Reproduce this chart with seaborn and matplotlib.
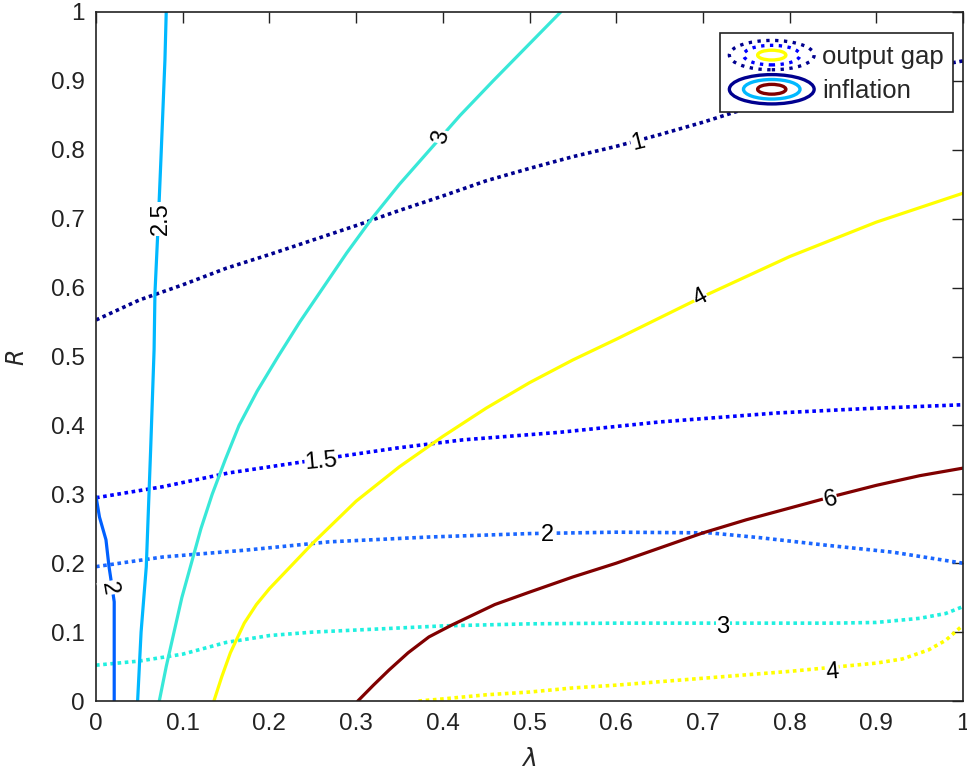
import numpy as np
import pandas as pd
import matplotlib
matplotlib.use("Agg")
import matplotlib.pyplot as plt
import seaborn as sns
from matplotlib.legend_handler import HandlerBase
from matplotlib.patches import Ellipse
from matplotlib.lines import Line2D

# ---------------- data ----------------
# inflation contours (solid)
infl_2_x = [0.021, 0.021, 0.018, 0.015, 0.0115, 0.004, 0.0]
infl_2_y = [0.0, 0.144, 0.170, 0.195, 0.234, 0.267, 0.297]
infl_25_x = [0.048, 0.052, 0.058, 0.063, 0.067, 0.068, 0.072, 0.075, 0.0795, 0.081]
infl_25_y = [0.0, 0.10, 0.195, 0.364, 0.51, 0.592, 0.70, 0.79, 0.93, 1.0]
infl_3_x = [0.073, 0.081, 0.090, 0.099, 0.110, 0.121, 0.134, 0.149, 0.165, 0.186, 0.210,
            0.235, 0.262, 0.289, 0.318, 0.350, 0.385, 0.420, 0.458, 0.497, 0.536]
infl_3_y = [0.0, 0.05, 0.10, 0.15, 0.20, 0.25, 0.30, 0.35, 0.40, 0.45, 0.50,
            0.55, 0.60, 0.65, 0.70, 0.75, 0.80, 0.85, 0.90, 0.95, 1.0]
infl_4_x = [0.136, 0.145, 0.155, 0.171, 0.185, 0.200, 0.250, 0.300, 0.350, 0.400, 0.450,
            0.500, 0.550, 0.600, 0.700, 0.800, 0.900, 1.0]
infl_4_y = [0.0, 0.035, 0.070, 0.113, 0.140, 0.163, 0.229, 0.290, 0.340, 0.384, 0.425,
            0.462, 0.495, 0.525, 0.587, 0.645, 0.695, 0.737]
infl_6_x = [0.302, 0.320, 0.338, 0.360, 0.384, 0.410, 0.430, 0.460, 0.500, 0.550, 0.600,
            0.650, 0.700, 0.750, 0.800, 0.850, 0.900, 0.950, 1.0]
infl_6_y = [0.0, 0.023, 0.045, 0.070, 0.093, 0.110, 0.122, 0.140, 0.158, 0.180, 0.200,
            0.222, 0.244, 0.263, 0.280, 0.297, 0.313, 0.327, 0.338]

# output gap contours (dotted)
og_1_x = [0.0, 0.05, 0.10, 0.15, 0.20, 0.25, 0.30, 0.35, 0.40, 0.45, 0.50,
          0.55, 0.60, 0.65, 0.70, 0.75, 0.80, 0.85, 0.90, 0.95, 1.0]
og_1_y = [0.553, 0.582, 0.604, 0.628, 0.648, 0.669, 0.690, 0.712, 0.733, 0.755, 0.773,
          0.790, 0.805, 0.822, 0.840, 0.860, 0.876, 0.892, 0.905, 0.918, 0.929]
og_15_x = [0.0, 0.077, 0.153, 0.238, 0.346, 0.423, 0.535, 0.650, 0.785, 0.881, 1.0]
og_15_y = [0.295, 0.311, 0.331, 0.347, 0.367, 0.379, 0.390, 0.405, 0.418, 0.424, 0.430]
og_2_x = [0.0, 0.077, 0.173, 0.269, 0.384, 0.500, 0.600, 0.708, 0.766, 0.843, 0.919, 1.0]
og_2_y = [0.195, 0.209, 0.219, 0.231, 0.238, 0.243, 0.245, 0.244, 0.237, 0.226, 0.216, 0.200]
og_3_x = [0.0, 0.05, 0.10, 0.15, 0.20, 0.25, 0.30, 0.40, 0.50, 0.60, 0.70, 0.80, 0.85,
          0.90, 0.95, 0.98, 1.0]
og_3_y = [0.052, 0.058, 0.068, 0.085, 0.095, 0.100, 0.103, 0.109, 0.112, 0.113, 0.113,
          0.113, 0.113, 0.114, 0.120, 0.127, 0.137]
og_4_x = [0.372, 0.40, 0.45, 0.50, 0.55, 0.60, 0.65, 0.70, 0.75, 0.80, 0.85, 0.90, 0.93,
          0.96, 0.98, 1.0]
og_4_y = [0.0, 0.003, 0.009, 0.013, 0.019, 0.023, 0.028, 0.033, 0.038, 0.043, 0.049,
          0.055, 0.061, 0.074, 0.088, 0.110]

# contour label texts and positions
label_texts = ["2", "2.5", "3", "4", "6", "1", "1.5", "2", "3", "4"]
label_x = [0.015, 0.075, 0.398, 0.697, 0.847, 0.625, 0.260, 0.521, 0.723, 0.849]
label_y = [0.164, 0.700, 0.819, 0.586, 0.292, 0.810, 0.347, 0.241, 0.107, 0.042]

x_ticks = [0, 0.1, 0.2, 0.3, 0.4, 0.5, 0.6, 0.7, 0.8, 0.9, 1]
y_ticks = [0, 0.1, 0.2, 0.3, 0.4, 0.5, 0.6, 0.7, 0.8, 0.9, 1]
tick_labels = ["0", "0.1", "0.2", "0.3", "0.4", "0.5", "0.6", "0.7", "0.8", "0.9", "1"]
legend_labels = ["output gap", "inflation"]

# ---------------- styling ----------------
sns.set_style("white")
plt.rcParams['font.family'] = ['Liberation Sans', 'DejaVu Sans']

C_NAVY = "#00008f"
C_BLUE = "#0000ff"
C_MID = "#0060ff"
C_SKY = "#00b8ff"
C_TURQ = "#38e8d8"
C_YEL = "#ffff00"
C_RED = "#800000"
C_OG2 = "#1a66ff"
C_OG3 = "#20f0e0"

solid = [(infl_2_x, infl_2_y, C_MID), (infl_25_x, infl_25_y, C_SKY),
         (infl_3_x, infl_3_y, C_TURQ), (infl_4_x, infl_4_y, C_YEL),
         (infl_6_x, infl_6_y, C_RED)]
dotted = [(og_1_x, og_1_y, C_NAVY), (og_15_x, og_15_y, C_BLUE),
          (og_2_x, og_2_y, C_OG2), (og_3_x, og_3_y, C_OG3),
          (og_4_x, og_4_y, C_YEL)]

fig = plt.figure(figsize=(9.67, 7.76), dpi=100)
ax = fig.add_axes([96 / 967, 75 / 776, 867 / 967, 689 / 776])

for xs, ys, c in dotted:
    df = pd.DataFrame({"lam": xs, "R": ys})
    sns.lineplot(data=df, x="lam", y="R", sort=False, estimator=None, color=c,
                 lw=2.6, ax=ax)
    ax.lines[-1].set_dashes((1.0, 1.0))
    ax.lines[-1].set_dash_capstyle("butt")
for xs, ys, c in solid:
    df = pd.DataFrame({"lam": xs, "R": ys})
    sns.lineplot(data=df, x="lam", y="R", sort=False, estimator=None, color=c,
                 lw=2.3, ax=ax)
    ax.lines[-1].set_solid_joinstyle("round")

rotations = [-80, 90, 75, 28, 14, 14, 5, 0, 0, 5]
for t, lx, ly, r in zip(label_texts, label_x, label_y, rotations):
    ax.text(lx, ly, t, fontsize=17, color="black", rotation=r, ha="center", va="center",
            rotation_mode="anchor",
            bbox=dict(facecolor="white", edgecolor="none", pad=0.3), zorder=5)

ax.set_xlim(0, 1)
ax.set_ylim(0, 1)
ax.set_xticks(x_ticks)
ax.set_yticks(y_ticks)
ax.set_xticklabels(tick_labels)
ax.set_yticklabels(tick_labels)
ax.tick_params(direction="in", length=8, width=1, top=True, right=True,
               labelsize=17.5, colors="#222222", pad=8)
ax.tick_params(axis="x", pad=9)
for s in ax.spines.values():
    s.set_color("#222222")
    s.set_linewidth(1.2)

ax.set_xlabel("λ", fontsize=18, style="italic", family=['DejaVu Sans'], labelpad=8)
ax.set_ylabel("R", fontsize=17, style="italic", family=['DejaVu Sans'], labelpad=16)


class ContourIcon(HandlerBase):
    def __init__(self, rings):
        super().__init__()
        self.rings = rings

    def create_artists(self, legend, orig_handle, xdescent, ydescent, width, height,
                       fontsize, trans):
        cx = width / 2 - xdescent
        cy = height / 2 - ydescent
        arts = []
        n = len(self.rings)
        for i, (c, ls) in enumerate(self.rings):
            f = 1 - i / n
            e = Ellipse((cx, cy), width * f, height * (1.15 * f), fill=False,
                        edgecolor=c, linestyle=ls, lw=2.4, transform=trans)
            arts.append(e)
        return arts


h1 = Line2D([], [], color=C_NAVY, ls=":")
h2 = Line2D([], [], color=C_RED, ls="-")
leg = ax.legend([h1, h2], legend_labels, loc="upper right",
                bbox_to_anchor=(0.988, 0.969), fontsize=18.5, frameon=True,
                fancybox=False, edgecolor="#222222", framealpha=1,
                handlelength=3.3, handleheight=1.15, handletextpad=0.3,
                borderpad=0.35, labelspacing=0.3, borderaxespad=0,
                handler_map={h1: ContourIcon([(C_NAVY, ":"), (C_BLUE, ":"), (C_YEL, "-")]),
                             h2: ContourIcon([(C_NAVY, "-"), (C_SKY, "-"), (C_RED, "-")])})
leg.get_frame().set_linewidth(1.2)
leg.set_zorder(10)

fig.savefig("out.png", dpi=100, facecolor="white")
